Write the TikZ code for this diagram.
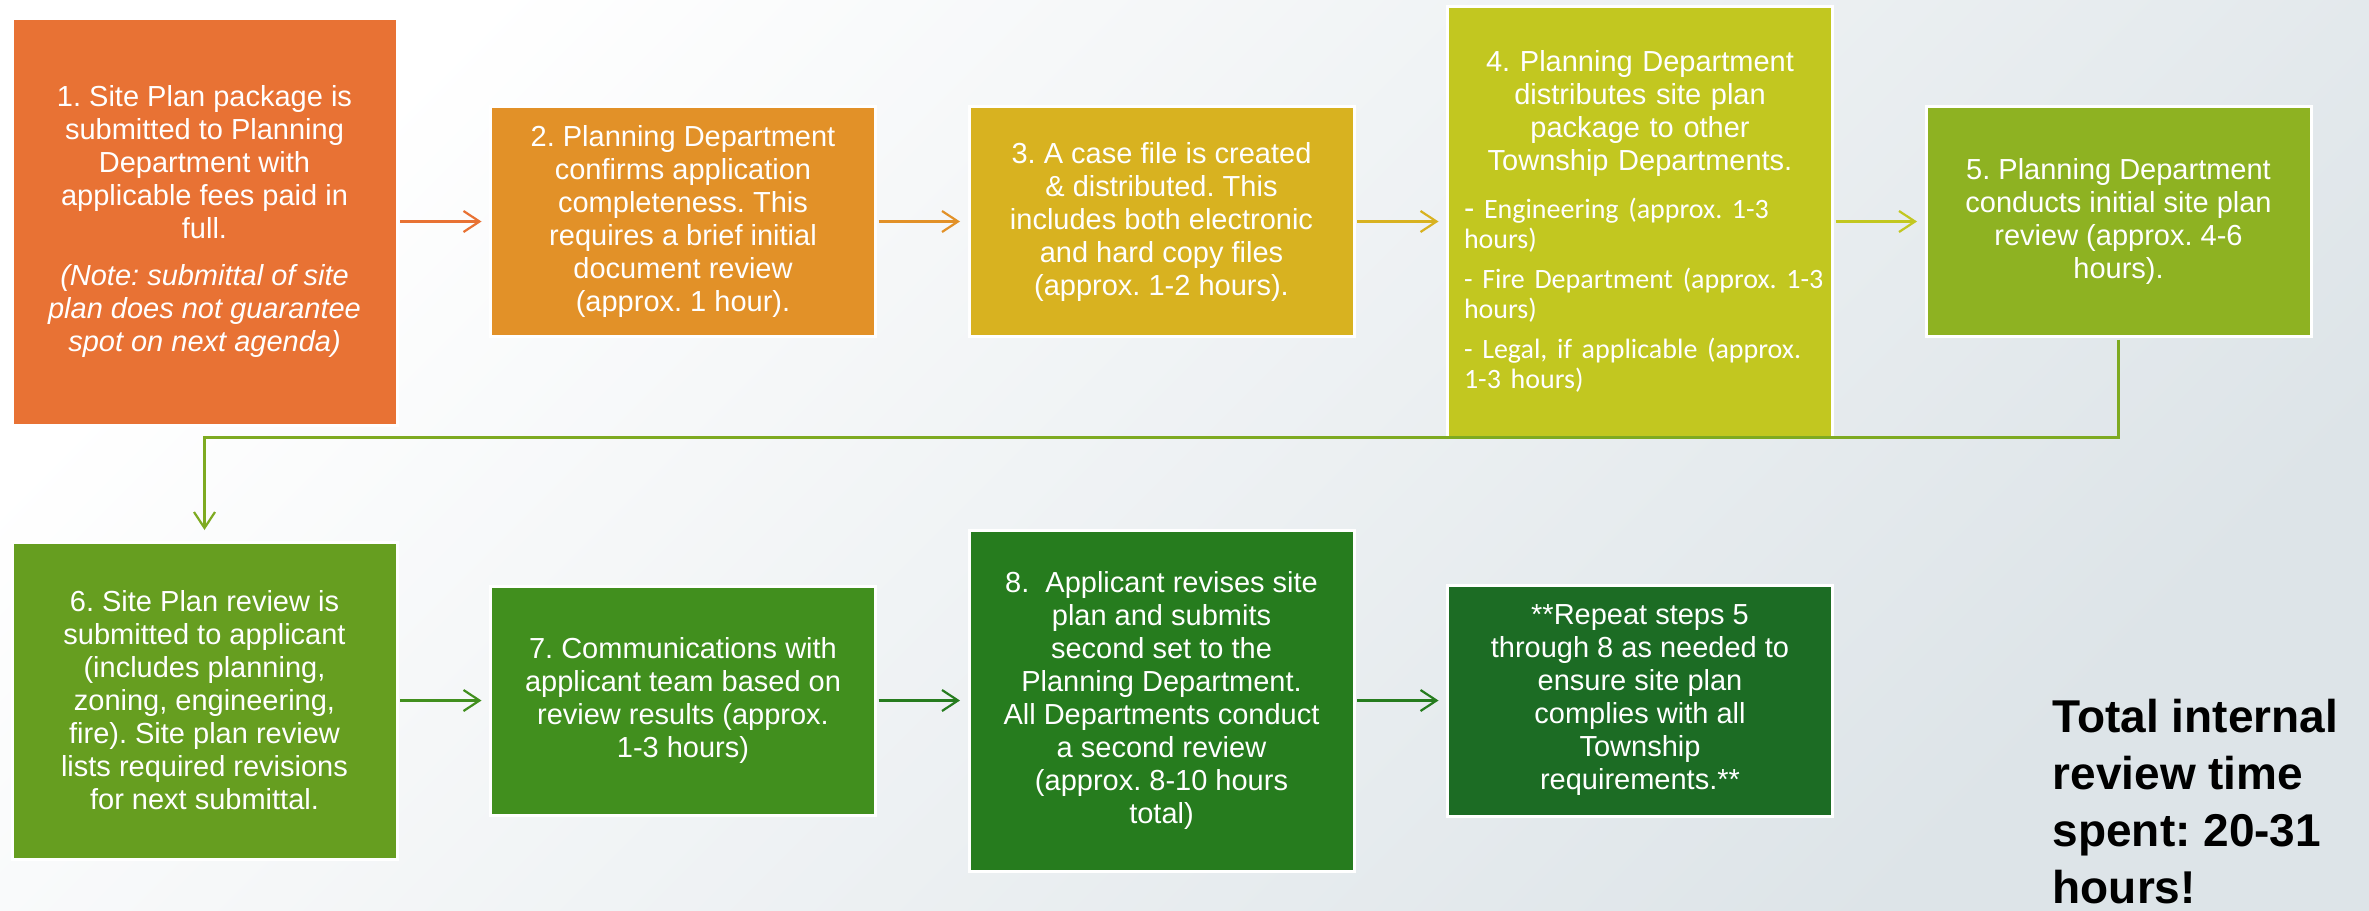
\documentclass[tikz,border=0pt]{standalone}
\usepackage{fontspec}
\setmainfont{Liberation Sans}
\newfontfamily\itemfont{Carlito}
\usepackage{tikz}
\usetikzlibrary{positioning,arrows.meta,calc}
\definecolor{StepOne}{HTML}{E87234}
\definecolor{StepTwo}{HTML}{E29128}
\definecolor{StepThree}{HTML}{D8B220}
\definecolor{StepFour}{HTML}{C2C720}
\definecolor{StepFive}{HTML}{8EB222}
\definecolor{StepSix}{HTML}{669E20}
\definecolor{StepSeven}{HTML}{418F1E}
\definecolor{StepEight}{HTML}{267C1E}
\definecolor{StepNine}{HTML}{1C6C24}
\definecolor{BgShade}{HTML}{DDE4E8}
\frenchspacing

\begin{document}
\begin{tikzpicture}[
    x=0.5pt, y=-0.5pt,
    every node/.style={font=\fontsize{14.5}{16.5}\selectfont, text=white, outer sep=0pt},
    stepbox/.style={draw=white, line width=1.5pt, fill=#1, minimum width=192.5pt, inner sep=0pt, align=center},
    link/.style={draw=#1, line width=1.1pt, -{Straight Barb[length=8pt,width=10.5pt,line width=1.1pt]}, shorten <=1.5pt, shorten >=4.5pt},
    node distance=46.75pt,
]
\useasboundingbox (0,0) rectangle (2369,910);
\shade[top color=white, bottom color=BgShade, shading angle=45] (0,0) rectangle (2369,910);

\node[stepbox=StepOne, minimum height=203.5pt] (b1) at (204.5,221.5)
    {1. Site Plan package is\\submitted to Planning\\Department with\\applicable fees paid in\\full.\\[7pt]
     \itshape (Note: submittal of site\\\itshape plan does not guarantee\\\itshape spot on next agenda)};
\node[stepbox=StepTwo, minimum height=115pt, right=of b1] (b2)
    {2. Planning Department\\confirms application\\completeness. This\\requires a brief initial\\document review\\(approx. 1 hour).};
\node[stepbox=StepThree, minimum height=115pt, right=of b2] (b3)
    {3. A case file is created\\\& distributed. This\\includes both electronic\\and hard copy files\\(approx. 1-2 hours).};
\node[stepbox=StepFour, minimum height=215.5pt, text width=176pt, right=of b3] (b4)
    {4. Planning Department\\distributes site plan\\package to other\\Township Departments.\par\vspace{9pt}
     {\raggedright\itemfont\fontsize{14}{15}\selectfont
     \mbox{{\normalfont\fontsize{15.5}{15}\selectfont -} Engineering (approx. 1-3}\\hours)\par\vspace{5pt}
     \mbox{- Fire Department (approx. 1-3}\\hours)\par\vspace{5pt}
     \mbox{- Legal, if applicable (approx.}\\1-3 hours)\par}};
\node[stepbox=StepFive, minimum height=115pt, right=of b4] (b5)
    {5. Planning Department\\conducts initial site plan\\review (approx. 4-6\\hours).};

\node[stepbox=StepSix, minimum height=158.5pt] (b6) at (204.5,700.5)
    {6. Site Plan review is\\submitted to applicant\\(includes planning,\\zoning, engineering,\\fire). Site plan review\\lists required revisions\\for next submittal.};
\node[stepbox=StepSeven, minimum height=114.5pt, right=of b6] (b7)
    {7. Communications with\\applicant team based on\\review results (approx.\\1-3 hours)};
\node[stepbox=StepEight, minimum height=170.5pt, right=of b7] (b8)
    {8.\ \ Applicant revises site\\plan and submits\\second set to the\\Planning Department.\\All Departments conduct\\a second review\\(approx. 8-10 hours\\total)};
\node[stepbox=StepNine, minimum height=115.5pt, right=of b8] (b9)
    {**Repeat steps 5\\through 8 as needed to\\ensure site plan\\complies with all\\Township\\requirements.**};

\node[anchor=west, align=left, text=black, font=\bfseries\fontsize{23}{28.5}\selectfont] (total) at (2046,802)
    {Total internal\\review time\\spent: 20-31\\hours!};

\draw[link=StepOne] (b1.east) -- (b2.west);
\draw[link=StepTwo] (b2.east) -- (b3.west);
\draw[link=StepThree] (b3.east) -- (b4.west);
\draw[link=StepFour] (b4.east) -- (b5.west);
\draw[link=StepFive!60!StepSix, shorten >=6pt] (b5.south) -- ++(0,101) -| (b6.north);
\draw[link=StepSeven] (b6.east) -- (b7.west);
\draw[link=StepEight] (b7.east) -- (b8.west);
\draw[link=StepEight] (b8.east) -- (b9.west);
\end{tikzpicture}
\end{document}
